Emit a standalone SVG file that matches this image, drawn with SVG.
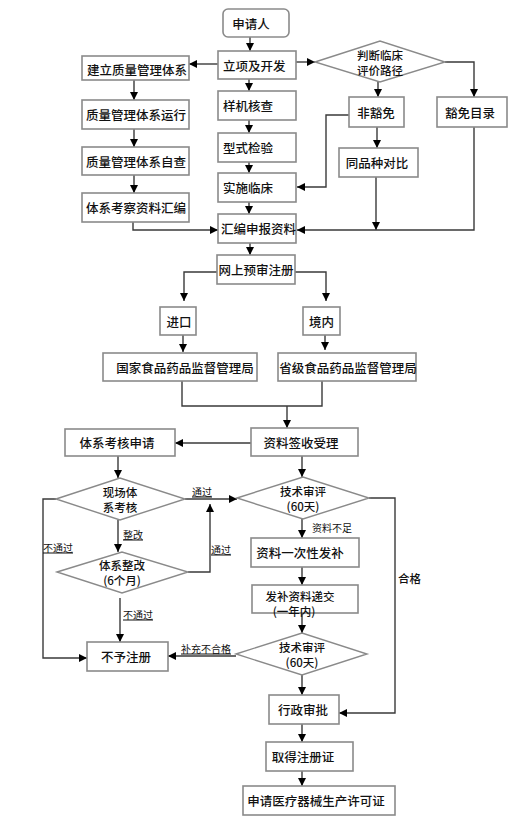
<svg xmlns="http://www.w3.org/2000/svg" width="514" height="826" viewBox="0 0 514 826">
<style>
.b{fill:#fff;stroke:#8a8a8a;stroke-width:1.6}
.d{fill:#fff;stroke:#8a8a8a;stroke-width:1.4}
.t{font-family:"Noto Sans CJK SC","Noto Sans",sans-serif;font-size:12.5px;font-weight:500;fill:#111;dominant-baseline:central}
.s{font-family:"Noto Sans CJK SC","Noto Sans",sans-serif;font-size:11.5px;font-weight:500;fill:#111;dominant-baseline:central}
.l{font-family:"Noto Sans CJK SC","Noto Sans",sans-serif;font-size:10px;fill:#111;dominant-baseline:central}
.u{text-decoration:underline}
.c{text-anchor:middle}
.k{fill:none;stroke:#3a3a3a;stroke-width:1.4}
.a{marker-end:url(#ah)}
</style>
<defs>
<marker id="ah" viewBox="0 0 10 10" refX="10" refY="5" markerWidth="8" markerHeight="8" orient="auto" markerUnits="userSpaceOnUse"><path d="M0,0 L10,5 L0,10 z" fill="#000"/></marker>
</defs>
<rect width="514" height="826" fill="#fff"/>
<g id="connectors">
<path class="k a" d="M250,37 V51"/>
<path class="k a" d="M218,64 H189"/>
<path class="k a" d="M296,62 H315"/>
<path class="k a" d="M445,62 H474 V97"/>
<path class="k a" d="M378,81 V97"/>
<path class="k a" d="M349,115 H326 V187 H297"/>
<path class="k a" d="M377,127 V148"/>
<path class="k a" d="M376,177 V230"/>
<path class="k a" d="M474,127 V230 H297"/>
<path class="k a" d="M249,79 V91"/>
<path class="k a" d="M249,120 V133"/>
<path class="k a" d="M249,162 V173"/>
<path class="k a" d="M249,202 V214"/>
<path class="k a" d="M134,80 V100"/>
<path class="k a" d="M134,129 V147"/>
<path class="k a" d="M134,175 V193"/>
<path class="k a" d="M133,222 V230 H218"/>
<path class="k a" d="M250,243 V255"/>
<path class="k a" d="M217,272 H184 V301"/>
<path class="k a" d="M295,272 H326 V301"/>
<path class="k a" d="M183,335 V352"/>
<path class="k a" d="M325,335 V350"/>
<path class="k" d="M182,381 V406 H322 V381"/>
<path class="k a" d="M287,406 V428"/>
<path class="k a" d="M251,443 H175"/>
<path class="k a" d="M302,456 V477"/>
<path class="k a" d="M118,456 V478"/>
<path class="k a" d="M185,499 H237"/>
<path class="k a" d="M56,499 H43 V658 H87"/>
<path class="k a" d="M118,520 V552"/>
<path class="k a" d="M188,572 H210 V504"/>
<path class="k a" d="M120,598 V642"/>
<path class="k a" d="M302,519 V538"/>
<path class="k a" d="M369,498 H395 V713 H339"/>
<path class="k a" d="M302,567 V585"/>
<path class="k a" d="M302,614 V633"/>
<path class="k a" d="M236,656 H168"/>
<path class="k a" d="M302,675 V695"/>
<path class="k a" d="M302,724 V742"/>
<path class="k a" d="M302,771 V786"/>
</g>
<g id="labels">
<text class="l u" x="192" y="491">通过</text>
<text class="l u" x="123" y="534">整改</text>
<text class="l u" x="43" y="547">不通过</text>
<text class="l u" x="211" y="549">通过</text>
<text class="l u" x="123" y="614">不通过</text>
<text class="l u" x="181" y="648">补充不合格</text>
<text class="l" x="312" y="527">资料不足</text>
<text class="s" x="398" y="578">合格</text>
</g>
<g id="n_applicant"><rect class="b" x="223" y="9" width="66" height="28" rx="5"/><text class="t c" x="251" y="23">申请人</text></g>
<g id="n_lixiang"><rect class="b" x="218" y="51" width="78" height="28"/><text class="t" x="223" y="65">立项及开发</text></g>
<g id="n_yangji"><rect class="b" x="218" y="91" width="78" height="29"/><text class="t" x="223" y="105.5">样机核查</text></g>
<g id="n_xingshi"><rect class="b" x="218" y="133" width="78" height="29"/><text class="t" x="223" y="147.5">型式检验</text></g>
<g id="n_shishi"><rect class="b" x="218" y="173" width="78" height="29"/><text class="t" x="223" y="187.5">实施临床</text></g>
<g id="n_huibian"><rect class="b" x="218" y="214" width="78" height="29"/><text class="t" x="221" y="228.5">汇编申报资料</text></g>
<g id="n_jianli"><rect class="b" x="82" y="56" width="107" height="24"/><text class="t" x="87" y="69">建立质量管理体系</text></g>
<g id="n_yunxing"><rect class="b" x="82" y="100" width="107" height="29"/><text class="t" x="86" y="114.5">质量管理体系运行</text></g>
<g id="n_zicha"><rect class="b" x="82" y="147" width="107" height="28"/><text class="t" x="86" y="161">质量管理体系自查</text></g>
<g id="n_kaocha"><rect class="b" x="82" y="193" width="107" height="29"/><text class="t" x="86" y="207.5">体系考察资料汇编</text></g>
<g id="n_panduan"><polygon class="d" points="315,62 380,41 445,62 380,82"/><text class="s c" x="380" y="55">判断临床</text><text class="s c" x="380" y="70">评价路径</text></g>
<g id="n_feihuomian"><rect class="b" x="349" y="97" width="55" height="30"/><text class="t c" x="376" y="112">非豁免</text></g>
<g id="n_huomian"><rect class="b" x="437" y="97" width="70" height="30"/><text class="t c" x="470" y="112">豁免目录</text></g>
<g id="n_tongpin"><rect class="b" x="339" y="148" width="79" height="29"/><text class="t c" x="377" y="162.5">同品种对比</text></g>
<g id="n_wangshang"><rect class="b" x="217" y="255" width="78" height="29"/><text class="t c" x="256" y="269.5">网上预审注册</text></g>
<g id="n_jinkou"><rect class="b" x="160" y="307" width="36" height="28"/><text class="t c" x="179" y="321">进口</text></g>
<g id="n_jingnei"><rect class="b" x="303" y="307" width="37" height="28"/><text class="t c" x="321.5" y="321">境内</text></g>
<g id="n_guojia"><rect class="b" x="103" y="353" width="154" height="28"/><text class="t c" x="185" y="367">国家食品药品监督管理局</text></g>
<g id="n_shengji"><rect class="b" x="278" y="353" width="138" height="28"/><text class="t c" x="348" y="367">省级食品药品监督管理局</text></g>
<g id="n_qianshou"><rect class="b" x="251" y="428" width="107" height="28"/><text class="t c" x="301" y="442">资料签收受理</text></g>
<g id="n_tixishenqing"><rect class="b" x="65" y="429" width="110" height="27"/><text class="t c" x="117" y="442.5">体系考核申请</text></g>
<g id="n_xianchang"><polygon class="d" points="56,499 120,478 185,499 120,520"/><text class="s c" x="120" y="492">现场体</text><text class="s c" x="120" y="507">系考核</text></g>
<g id="n_shenping1"><polygon class="d" points="237,498 303,477 369,498 303,519"/><text class="s c" x="303" y="491">技术审评</text><text class="s c" x="303" y="506">(60天)</text></g>
<g id="n_zhenggai"><polygon class="d" points="57,572 122,552 188,572 122,593"/><text class="s c" x="122" y="565">体系整改</text><text class="s c" x="122" y="580">(6个月)</text></g>
<g id="n_fabu"><rect class="b" x="251" y="538" width="108" height="29"/><text class="t c" x="300" y="552.5">资料一次性发补</text></g>
<g id="n_dijiao"><rect class="b" x="252" y="585" width="106" height="28"/><text class="s c" x="300" y="596">发补资料递交</text><text class="s c" x="294" y="611">(一年内)</text></g>
<g id="n_shenping2"><polygon class="d" points="236,654 302,633 367,654 302,675"/><text class="s c" x="302" y="647">技术审评</text><text class="s c" x="302" y="662">(60天)</text></g>
<g id="n_buyu"><rect class="b" x="87" y="642" width="81" height="29"/><text class="t c" x="126" y="656.5">不予注册</text></g>
<g id="n_xingzheng"><rect class="b" x="269" y="695" width="70" height="29"/><text class="t c" x="303" y="709.5">行政审批</text></g>
<g id="n_qude"><rect class="b" x="266" y="742" width="87" height="29"/><text class="t c" x="303" y="756.5">取得注册证</text></g>
<g id="n_shengchan"><rect class="b" x="243" y="786" width="152" height="29"/><text class="t c" x="316" y="800.5">申请医疗器械生产许可证</text></g>
</svg>
